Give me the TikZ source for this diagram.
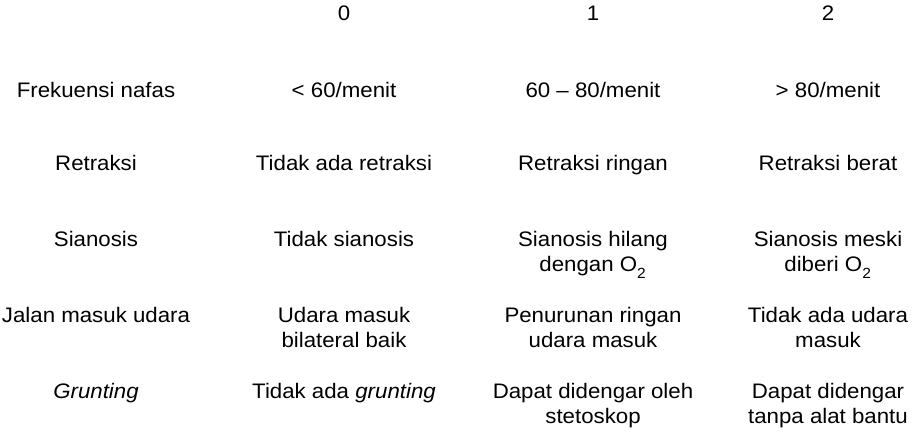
\documentclass[tikz,border=0pt]{standalone}
\usepackage{fontspec}
\setmainfont{Liberation Sans}[FakeStretch=1.06]
\begin{document}
\begin{tikzpicture}[x=0.75pt,y=-0.75pt,
  cell/.style={anchor=base,inner sep=0pt,align=center,
    font=\fontsize{15.75pt}{19.2pt}\selectfont},
  two/.style={cell,yshift=-19.2pt}]
\useasboundingbox (0,0) rectangle (912,432);
% header
\node[cell] (h0) at (344,21) {0};
\node[cell] (h1) at (593,21) {1};
\node[cell] (h2) at (828,21) {2};
% row 1
\node[cell] (r1a) at (96,97) {Frekuensi nafas};
\node[cell] (r1b) at (344,97) {< 60/menit};
\node[cell] (r1c) at (593,97) {60 – 80/menit};
\node[cell] (r1d) at (828,97) {> 80/menit};
% row 2
\node[cell] (r2a) at (96,170) {Retraksi};
\node[cell] (r2b) at (344,170) {Tidak ada retraksi};
\node[cell] (r2c) at (593,170) {Retraksi ringan};
\node[cell] (r2d) at (828,170) {Retraksi berat};
% row 3
\node[cell] (r3a) at (96,246) {Sianosis};
\node[cell] (r3b) at (344,246) {Tidak sianosis};
\node[two] (r3c) at (593,246) {Sianosis hilang\\dengan O\raisebox{-0.3ex}{\textsubscript{2}}};
\node[two] (r3d) at (828,246) {Sianosis meski\\diberi O\raisebox{-0.3ex}{\textsubscript{2}}};
% row 4
\node[cell] (r4a) at (96,322) {Jalan masuk udara};
\node[two] (r4b) at (344,322) {Udara masuk\\bilateral baik};
\node[two] (r4c) at (593,322) {Penurunan ringan\\udara masuk};
\node[two] (r4d) at (828,322) {Tidak ada udara\\masuk};
% row 5
\node[cell] (r5a) at (96,398) {\textit{Grunting}};
\node[cell] (r5b) at (344,398) {Tidak ada \textit{grunting}};
\node[two] (r5c) at (593,398) {Dapat didengar oleh\\stetoskop};
\node[two] (r5d) at (828,398) {Dapat didengar\\tanpa alat bantu};
\end{tikzpicture}
\end{document}
